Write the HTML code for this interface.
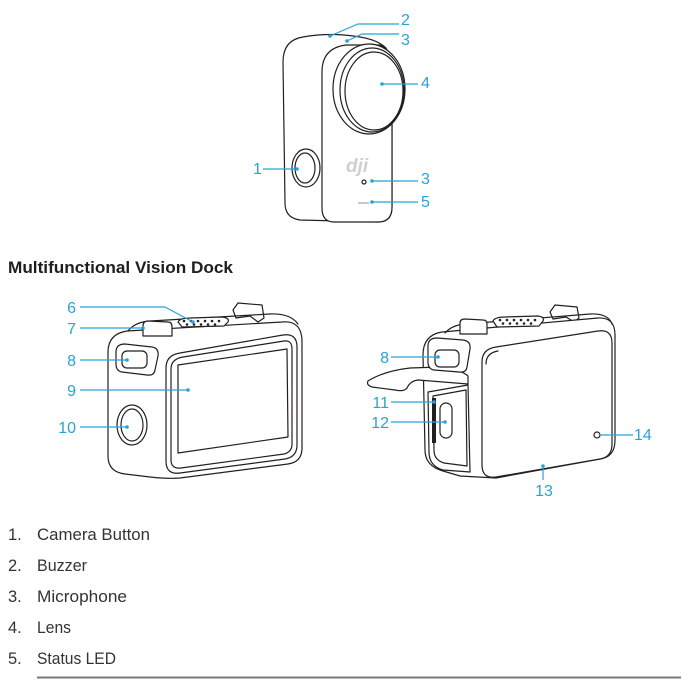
<!DOCTYPE html>
<html><head><meta charset="utf-8"><style>
html,body{margin:0;padding:0;background:#fff;}
svg{display:block;}
</style></head><body>
<svg width="694" height="680" viewBox="0 0 694 680" xmlns="http://www.w3.org/2000/svg">
<g fill="#fff" stroke="#231f20" stroke-width="1.2" stroke-linejoin="round" stroke-linecap="round">
<!-- TOP CAMERA -->
<path d="M283,62 Q283,40 303,37 Q330,32 360,37 Q378,40 386,48 L392,60 L392,207 Q392,222 378,222 L300,220 Q285,218 285,203 Z"/>
<path d="M322,72 Q322,48 346,45 L380,45 Q392,50 392,70 L392,207 Q392,222 378,222 L334,222 Q322,222 322,208 Z"/>
<ellipse cx="369" cy="89" rx="36" ry="45"/>
<ellipse cx="372" cy="90" rx="32" ry="42"/>
<ellipse cx="374" cy="91" rx="29" ry="39"/>
<ellipse cx="306" cy="168" rx="14" ry="19"/>
<ellipse cx="305" cy="168" rx="10" ry="15"/>
<circle cx="364" cy="182" r="2"/>
</g>
<text x="346" y="172" font-family="Liberation Sans, sans-serif" font-size="19" font-weight="bold" font-style="italic" fill="#cfcfcf">dji</text>
<line x1="358" y1="203" x2="369" y2="203" stroke="#c8c8c8" stroke-width="2"/>

<!-- LEFT DOCK -->
<g fill="#fff" stroke="#231f20" stroke-width="1.2" stroke-linejoin="round" stroke-linecap="round">
<path d="M233,310 L238,303 L262,305 L264,318 L258,322 L250,316 L236,318 Z"/>
<path d="M108,352 Q108,334 127,331 L282,322 Q302,320 302,342 L302,448 Q302,462 288,464 L180,478 Q168,479 150,477 L125,474 Q108,472 108,456 Z"/>
<path d="M128,331 Q135,322 150,321 L270,314 Q290,313 298,324" fill="none"/>
<path d="M178,322 Q180,318 190,318 L222,317 Q230,318 228,322 L224,326 L182,327 Z"/>
<path d="M143,326 Q143,321 148,321 L168,322 Q172,322 172,327 L172,336 L143,336 Z"/>
<path d="M166,368 Q166,355 180,353 L283,335 Q297,333 297,347 L297,445 Q297,457 285,459 L180,473 Q166,475 166,461 Z"/>
<path d="M171,369 Q171,359 183,357 L284,341 Q292,340 292,349 L292,444 Q292,452 284,454 L181,468 Q171,469 171,460 Z"/>
<path d="M178,365 L287,349 L288,437 L178,453 Z"/>
<path d="M116,352 Q116,344 125,344 L152,347 Q159,348 158,356 L155,370 Q154,376 147,375 L122,372 Q116,371 116,364 Z"/>
<rect x="122" y="351" width="25" height="17" rx="5"/>
<ellipse cx="132" cy="425" rx="15" ry="20"/>
<ellipse cx="132" cy="425" rx="11" ry="16"/>
</g>
<g fill="#231f20">
<circle cx="184" cy="321" r="1.3"/><circle cx="191" cy="321" r="1.3"/><circle cx="198" cy="321" r="1.3"/><circle cx="205" cy="321" r="1.3"/><circle cx="212" cy="321" r="1.3"/><circle cx="219" cy="321" r="1.3"/>
<circle cx="187" cy="324.5" r="1.3"/><circle cx="194" cy="324.5" r="1.3"/><circle cx="201" cy="324.5" r="1.3"/><circle cx="208" cy="324.5" r="1.3"/><circle cx="215" cy="324.5" r="1.3"/>
</g>

<!-- RIGHT DOCK -->
<g fill="#fff" stroke="#231f20" stroke-width="1.2" stroke-linejoin="round" stroke-linecap="round">
<path d="M550,312 L555,305 L577,307 L579,318 L574,322 L566,317 L553,319 Z"/>
<path d="M423,355 Q423,335 442,332 L598,318 Q615,317 615,335 L615,440 Q615,457 600,459 L496,478 L460,476 L443,471 Q425,466 425,450 Z"/>
<path d="M445,333 Q452,325 465,324 L590,314 Q608,313 612,324" fill="none"/>
<path d="M493,321 Q495,317 505,317 L538,316 Q545,317 543,321 L539,326 L497,327 Z"/>
<path d="M460,323 Q460,319 465,319 L483,320 Q487,320 487,324 L487,334 L460,334 Z"/>
<path d="M428,392 L468,385 L470,472 L443,470 Q429,466 429,452 Z"/>
<path d="M433,396 L466,390 L467,466 L444,463 Q434,460 434,450 Z"/>
<rect x="440" y="403" width="12" height="35" rx="6"/>
<path d="M368,381 Q384,371 410,368 L440,367 Q460,369 468,376 L468,384 L418,380 Q410,381 407,388 Q404,392 395,390 L372,387 Q366,385 368,381 Z"/>
<path d="M482,362 Q482,349 496,347 L598,331 Q612,329 612,343 L612,444 Q612,457 600,459 L496,477 Q482,479 482,465 Z"/>
<path d="M486,364 Q486,353 498,351" fill="none"/>
<path d="M428,346 Q428,338 437,338 L463,340 Q471,341 470,349 L467,367 Q466,373 459,372 L434,370 Q428,369 428,362 Z"/>
<rect x="435" y="350" width="24" height="17" rx="5"/>
<circle cx="597" cy="435" r="3"/>
</g>
<rect x="432" y="398" width="4" height="45" fill="#231f20"/>
<g fill="#231f20">
<circle cx="500" cy="320" r="1.3"/><circle cx="507" cy="320" r="1.3"/><circle cx="514" cy="320" r="1.3"/><circle cx="521" cy="320" r="1.3"/><circle cx="528" cy="320" r="1.3"/><circle cx="535" cy="320" r="1.3"/>
<circle cx="503" cy="323.5" r="1.3"/><circle cx="510" cy="323.5" r="1.3"/><circle cx="517" cy="323.5" r="1.3"/><circle cx="524" cy="323.5" r="1.3"/><circle cx="531" cy="323.5" r="1.3"/>
</g>

<!-- CALLOUT LINES -->
<g stroke="#27a3d6" stroke-width="1.2" fill="none">
<polyline points="330,36 358,24 399,24"/>
<polyline points="347,41 362,34 399,34"/>
<line x1="382" y1="84" x2="418" y2="84"/>
<line x1="263" y1="169" x2="297" y2="169"/>
<line x1="372" y1="181" x2="418" y2="181"/>
<line x1="372" y1="202" x2="418" y2="202"/>
<polyline points="80,307 165,307 193,322"/>
<line x1="80" y1="328" x2="143" y2="328"/>
<line x1="80" y1="360" x2="127" y2="360"/>
<line x1="80" y1="390" x2="188" y2="390"/>
<line x1="80" y1="427" x2="127" y2="427"/>
<line x1="391" y1="357" x2="438" y2="357"/>
<line x1="391" y1="402" x2="434" y2="402"/>
<line x1="391" y1="422" x2="445" y2="422"/>
<line x1="543" y1="466" x2="543" y2="480"/>
<line x1="601" y1="435" x2="633" y2="435"/>
</g>
<g fill="#27a3d6">
<circle cx="330" cy="36" r="1.8"/><circle cx="347" cy="41" r="1.8"/><circle cx="382" cy="84" r="1.8"/>
<circle cx="297" cy="169" r="1.8"/><circle cx="372" cy="181" r="1.8"/><circle cx="372" cy="202" r="1.8"/>
<circle cx="193" cy="322" r="1.8"/><circle cx="143" cy="328" r="1.8"/><circle cx="127" cy="360" r="1.8"/>
<circle cx="188" cy="390" r="1.8"/><circle cx="127" cy="427" r="1.8"/>
<circle cx="438" cy="357" r="1.8"/><circle cx="434" cy="402" r="1.8"/><circle cx="445" cy="422" r="1.8"/>
<circle cx="543" cy="466" r="1.8"/>
</g>
<g fill="#27a3d6" font-family="Liberation Sans, sans-serif" font-size="16">
<text x="401" y="25">2</text>
<text x="401" y="45">3</text>
<text x="421" y="88">4</text>
<text x="253" y="174">1</text>
<text x="421" y="184">3</text>
<text x="421" y="207">5</text>
<text x="76" y="313" text-anchor="end">6</text>
<text x="76" y="334" text-anchor="end">7</text>
<text x="76" y="366" text-anchor="end">8</text>
<text x="76" y="396" text-anchor="end">9</text>
<text x="76" y="433" text-anchor="end">10</text>
<text x="389" y="363" text-anchor="end">8</text>
<text x="389" y="408" text-anchor="end">11</text>
<text x="389" y="428" text-anchor="end">12</text>
<text x="544" y="496" text-anchor="middle">13</text>
<text x="634" y="440">14</text>
</g>

<!-- HEADING + LIST -->
<text x="8" y="273" font-family="Liberation Sans, sans-serif" font-size="16.5" font-weight="bold" fill="#1e1e1e" textLength="225" lengthAdjust="spacingAndGlyphs">Multifunctional Vision Dock</text>
<g font-family="Liberation Sans, sans-serif" font-size="16.5" fill="#333">
<text x="8" y="540">1.</text><text x="37" y="540" textLength="113" lengthAdjust="spacingAndGlyphs">Camera Button</text>
<text x="8" y="571">2.</text><text x="37" y="571" textLength="50" lengthAdjust="spacingAndGlyphs">Buzzer</text>
<text x="8" y="602">3.</text><text x="37" y="602" textLength="90" lengthAdjust="spacingAndGlyphs">Microphone</text>
<text x="8" y="633">4.</text><text x="37" y="633" textLength="34" lengthAdjust="spacingAndGlyphs">Lens</text>
<text x="8" y="664">5.</text><text x="37" y="664" textLength="79" lengthAdjust="spacingAndGlyphs">Status LED</text>
</g>
<line x1="37" y1="677.5" x2="681" y2="677.5" stroke="#777" stroke-width="2"/>
</svg>
</body></html>
